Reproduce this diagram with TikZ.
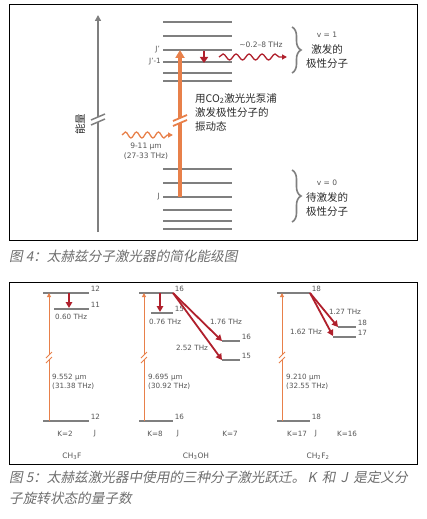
\documentclass[tikz,border=0pt]{standalone}
\usepackage{fontspec}
\setmainfont{DejaVu Sans}
\newfontfamily\cjk{Noto Sans CJK SC}
\newfontfamily\cjkit[FakeSlant=0.2]{Noto Sans CJK SC}
\usetikzlibrary{arrows.meta,decorations.pathmorphing,decorations.pathreplacing}

\definecolor{lvlgray}{HTML}{7F7F7F}
\definecolor{pumporange}{HTML}{E8804A}
\definecolor{thzred}{HTML}{B0202C}
\definecolor{labgray}{HTML}{555555}
\definecolor{txtdark}{HTML}{2B2B2B}
\definecolor{capgray}{HTML}{6E6E6E}

\begin{document}
\begin{tikzpicture}[x=1pt, y=-1pt,
  level/.style={draw=lvlgray, line width=2pt},
  slevel/.style={draw=lvlgray, line width=1.6pt},
  pump/.style={draw=pumporange, line width=3.5pt, -{Triangle[length=8pt,width=9pt]}},
  spump/.style={draw=pumporange, line width=1pt, -{Triangle[length=4pt,width=4pt]}},
  emit/.style={draw=thzred, line width=1.8pt, -{Triangle[length=6pt,width=6.5pt]}},
  wave/.style={line width=1.3pt, decorate,
    decoration={snake, amplitude=3pt, segment length=11pt, post length=5pt},
    -{Triangle[length=5pt,width=5pt]}},
  grbrace/.style={draw=lvlgray, line width=1.6pt, decorate,
    decoration={brace, amplitude=9pt}},
  lab/.style={text=labgray, font=\fontsize{7.2}{9}\selectfont, inner sep=1pt},
  cn/.style={text=txtdark, font=\cjk\fontsize{10.5}{14}\selectfont, inner sep=0pt},
  captext/.style={text=capgray, font=\cjkit\fontsize{13.6}{21}\selectfont, inner sep=0pt}]
  \useasboundingbox (0,0) rectangle (427,519);
  % Parameters
  \def\xl{163}   % left end of levels
  \def\xr{232}   % right end of levels
  % break mark: x, y, half width, colour
  \def\brk#1#2#3#4{%
    \fill[white] (#1-#3,#2+5) -- (#1+#3,#2-1) -- (#1+#3,#2-6) -- (#1-#3,#2) -- cycle;
    \draw[#4] (#1-#3,#2+5) -- (#1+#3,#2-1) (#1-#3,#2) -- (#1+#3,#2-6);}

  % ---------- Figure 4 ----------
  \draw[line width=0.8pt] (9,4) rectangle (417,240);
  % Energy axis
  \coordinate (ax0) at (98,232);
  \coordinate (ax1) at (98,15);
  \draw[draw=lvlgray, line width=2pt, -{Triangle[length=6pt,width=6pt]}] (ax0) -- (ax1);
  \brk{98}{120}{7}{draw=lvlgray, line width=1.5pt}
  \node[cn, rotate=90] (energy) at (80,124) {能量};
  % Rotational levels
  \foreach \y in {22,36,50,62,73,81,169,183,197,210,221,229}
    \draw[level] (\xl,\y) -- (\xr,\y);
  \node[lab, anchor=east] (lJp)  at (161,50)  {J'};
  \node[lab, anchor=east] (lJm)  at (162,62)  {J'-1};
  \node[lab, anchor=east] (lJ)   at (161,197) {J};
  % Pump transition
  \coordinate (J)  at (180,197);
  \coordinate (Jp) at (180,50);
  \draw[pump] (J) -- (Jp);
  \brk{180}{121}{7}{draw=pumporange, line width=1.8pt}
  \coordinate (co2a) at (122,135);
  \coordinate (co2b) at (173,135);
  \draw[wave, draw=pumporange] (co2a) -- (co2b);
  \node[lab, align=center, font=\fontsize{7.5}{9.5}\selectfont] (co2lab) at (146,151)
    {9-11 μm\\(27-33 THz)};
  \node[cn, anchor=north west, align=left] (pumptxt) at (195,93)
    {用CO\textsubscript{2}激光光泵浦\\激发极性分子的\\振动态};
  % THz emission
  \coordinate (Ja) at (204,51);
  \coordinate (Jb) at (204,63);
  \draw[emit, line width=2.5pt, -{Triangle[length=6pt,width=8pt]}] (Ja) -- (Jb);
  \coordinate (thza) at (219,57);
  \coordinate (thzb) at (287,57);
  \draw[wave, draw=thzred, decoration={segment length=13pt}] (thza) -- (thzb);
  \node[lab, font=\fontsize{7.5}{9}\selectfont] (thzlab) at (261,45) {\textasciitilde0.2–8 THz};
  % Vibrational states
  \draw[grbrace] (292,27) -- (292,73);
  \draw[grbrace] (292,170) -- (292,222);
  \node[lab, font=\fontsize{7.5}{9}\selectfont] (v1) at (327,35) {v = 1};
  \node[cn, align=center] (v1txt) at (327,57) {激发的\\极性分子};
  \node[lab, font=\fontsize{7.5}{9}\selectfont] (v0) at (327,183) {v = 0};
  \node[cn, align=center] (v0txt) at (327,205) {待激发的\\极性分子};
  \node[captext, anchor=west] (cap4) at (9,256) {图 4：太赫兹分子激光器的简化能级图};

  % ---------- Figure 5 ----------
  \draw[line width=0.8pt] (9,282) rectangle (417,464);
  % CH3F
  \draw[slevel] (43,293) -- (89,293) node[lab, anchor=south west] (a12u) {12};
  \draw[slevel] (54,309) -- (89,309) node[lab, anchor=south west] (a11u) {11};
  \draw[slevel] (43,421) -- (89,421) node[lab, anchor=south west] (a12l) {12};
  \coordinate (aJl) at (49,421);
  \coordinate (aJu) at (49,293);
  \draw[spump] (aJl) -- (aJu);
  \brk{49}{358}{3}{draw=pumporange, line width=0.8pt}
  \coordinate (aEa) at (69,293);
  \coordinate (aEb) at (69,308);
  \draw[emit] (aEa) -- (aEb);
  \node[lab, anchor=west] (aThz) at (54,317) {0.60 THz};
  \node[lab, anchor=north west, align=left] (aIR) at (51,373) {9.552 μm\\(31.38 THz)};
  \node[lab] (aK) at (65,434) {K=2};
  \node[lab] (aJ) at (95,434) {J};
  \node[lab, font=\fontsize{7.5}{9}\selectfont] (aName) at (72,456) {CH\textsubscript{3}F};
  % CH3OH
  \draw[slevel] (139,293) -- (173,293) node[lab, anchor=south west] (b16u) {16};
  \draw[slevel] (151,313) -- (173,313) node[lab, anchor=south west] (b15u) {15};
  \draw[slevel] (222,341) -- (240,341) node[lab, anchor=south west] (b16k) {16};
  \draw[slevel] (222,360) -- (240,360) node[lab, anchor=south west] (b15k) {15};
  \draw[slevel] (139,421) -- (173,421) node[lab, anchor=south west] (b16l) {16};
  \coordinate (bJl) at (144,421);
  \coordinate (bJu) at (144,293);
  \draw[spump] (bJl) -- (bJu);
  \brk{144}{358}{3}{draw=pumporange, line width=0.8pt}
  \coordinate (bEa) at (160,293);
  \coordinate (bEb) at (160,312);
  \coordinate (bTop) at (173,293);
  \coordinate (bK16) at (222,341);
  \coordinate (bK15) at (222,360);
  \draw[emit] (bEa) -- (bEb);
  \draw[emit] (bTop) -- (bK16);
  \draw[emit] (bTop) -- (bK15);
  \node[lab, anchor=west] (bThz) at (148,322) {0.76 THz};
  \node[lab] (bThz1) at (226,322) {1.76 THz};
  \node[lab] (bThz2) at (192,348) {2.52 THz};
  \node[lab, anchor=north west, align=left] (bIR) at (147,373) {9.695 μm\\(30.92 THz)};
  \node[lab] (bK) at (155,434) {K=8};
  \node[lab] (bJ) at (178,434) {J};
  \node[lab] (bK7) at (230,434) {K=7};
  \node[lab, font=\fontsize{7.5}{9}\selectfont] (bName) at (196,456) {CH\textsubscript{3}OH};
  % CH2F2
  \draw[slevel] (277,293) -- (310,293) node[lab, anchor=south west] (c18u) {18};
  \draw[slevel] (338,327) -- (356,327) node[lab, anchor=south west] (c18k) {18};
  \draw[slevel] (333,337) -- (356,337) node[lab, anchor=south west] (c17k) {17};
  \draw[slevel] (277,421) -- (310,421) node[lab, anchor=south west] (c18l) {18};
  \coordinate (cJl) at (282,421);
  \coordinate (cJu) at (282,293);
  \draw[spump] (cJl) -- (cJu);
  \brk{282}{358}{3}{draw=pumporange, line width=0.8pt}
  \coordinate (cTop) at (310,293);
  \coordinate (cK18) at (338,327);
  \coordinate (cK17) at (333,336);
  \draw[emit] (cTop) -- (cK18);
  \draw[emit] (cTop) -- (cK17);
  \node[lab] (cThz1) at (345,312) {1.27 THz};
  \node[lab] (cThz2) at (306,332) {1.62 THz};
  \node[lab, anchor=north west, align=left] (cIR) at (285,373) {9.210 μm\\(32.55 THz)};
  \node[lab] (cK) at (297,434) {K=17};
  \node[lab] (cJ) at (316,434) {J};
  \node[lab] (cK16) at (347,434) {K=16};
  \node[lab, font=\fontsize{7.5}{9}\selectfont] (cName) at (318,456) {CH\textsubscript{2}F\textsubscript{2}};
  \node[captext, anchor=north west, align=left] (cap5) at (9,471)
    {图 5：太赫兹激光器中使用的三种分子激光跃迁。\,K\, 和 \,J\, 是定义分\\子旋转状态的量子数};
\end{tikzpicture}
\end{document}
